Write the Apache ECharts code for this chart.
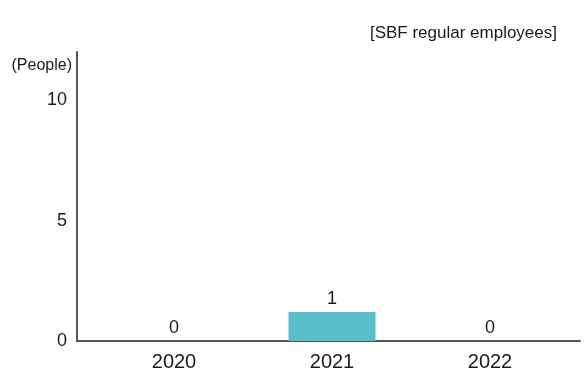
<!DOCTYPE html>
<html>
<head>
<meta charset="utf-8">
<script src="https://cdn.jsdelivr.net/npm/echarts@6/dist/echarts.min.js"></script>
<style>html,body{margin:0;padding:0;background:#fff}#c{width:584px;height:374px}</style>
</head>
<body>
<div id="c"></div>
<script>
const years = ['2020', '2021', '2022'];
const employees = [0, 1.2, 0];
const valueLabels = ['0', '1', '0'];
const yTicks = [0, 5, 10];
const titleText = '[SBF regular employees]';
const unitText = '(People)';

const FONT = '"Liberation Sans", Arial, Helvetica, sans-serif';
const chart = echarts.init(document.getElementById('c'), null, {renderer: 'canvas'});
chart.setOption({
  animation: false,
  backgroundColor: '#fff',
  graphic: [
    {type: 'text', right: 584 - 557, top: 25, style: {text: titleText, font: '17px ' + FONT, fill: '#1a1a1a', textAlign: 'right'}},
    {type: 'text', right: 584 - 72, top: 58, style: {text: unitText, font: '16px ' + FONT, fill: '#1a1a1a', textAlign: 'right'}}
  ],
  grid: [
    {left: 77, right: 4, top: 52, bottom: 33},
    {left: 95, right: 15, top: 52, bottom: 33}
  ],
  xAxis: [
    {gridIndex: 0, type: 'value', min: 0, max: 1, axisLine: {show: true, onZero: false, lineStyle: {color: '#555', width: 2}}, axisTick: {show: false}, axisLabel: {show: false}, splitLine: {show: false}},
    {gridIndex: 1, type: 'category', data: years, axisLine: {show: false}, axisTick: {show: false}, splitLine: {show: false},
      axisLabel: {color: '#1a1a1a', fontSize: 20, fontFamily: FONT, margin: 11}}
  ],
  yAxis: [
    {gridIndex: 0, type: 'value', min: 0, max: 12, interval: 5,
      axisLine: {show: true, lineStyle: {color: '#555', width: 2}}, axisTick: {show: false}, splitLine: {show: false},
      axisLabel: {color: '#1a1a1a', fontSize: 18, fontFamily: FONT, margin: 10, showMaxLabel: false, padding: [0, 0, 8, 0],
        formatter: v => yTicks.indexOf(v) >= 0 ? String(v) : ''}},
    {gridIndex: 1, type: 'value', min: 0, max: 12, show: false}
  ],
  series: [{
    type: 'bar', xAxisIndex: 1, yAxisIndex: 1, data: employees, barWidth: 87,
    itemStyle: {color: '#58bfcb'},
    label: {show: true, position: 'top', distance: 4, color: '#1a1a1a', fontSize: 18, fontFamily: FONT,
      formatter: p => valueLabels[p.dataIndex]}
  }]
});
</script>
</body>
</html>
